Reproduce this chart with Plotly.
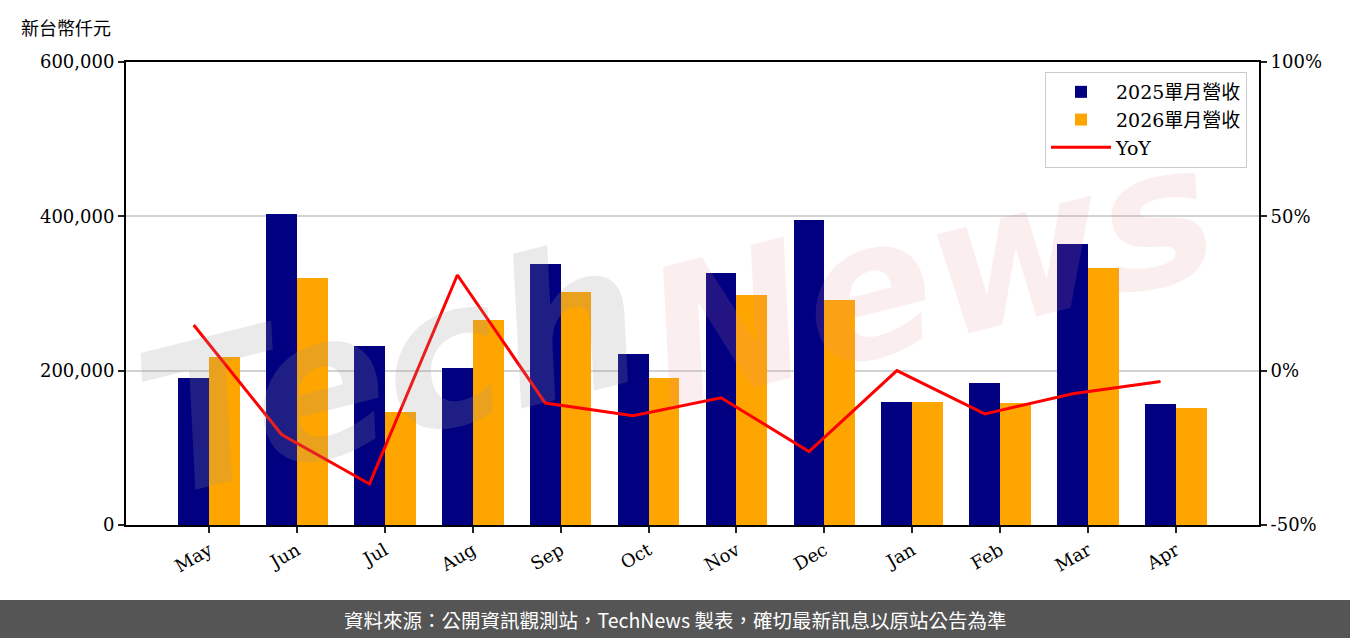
import plotly.graph_objects as go

months = ["May", "Jun", "Jul", "Aug", "Sep", "Oct", "Nov", "Dec", "Jan", "Feb", "Mar", "Apr"]
rev_2025 = [190000, 403000, 232000, 203000, 338000, 222000, 326000, 395000, 160000, 184000, 364000, 157000]
rev_2026 = [218000, 320000, 147000, 266000, 302000, 190000, 298000, 291000, 160000, 158000, 333000, 152000]
yoy = [14.8, -20.7, -36.7, 31.0, -10.5, -14.6, -8.8, -26.2, 0.0, -14.0, -7.5, -3.5]

name_2025 = "2025單月營收"
name_2026 = "2026單月營收"
name_yoy = "YoY"
y_title = "新台幣仟元"
footer = "資料來源：公開資訊觀測站，TechNews 製表，確切最新訊息以原站公告為準"

W = 0.35
idx = list(range(len(months)))
x_a = [i for i in idx]
x_b = [i + W for i in idx]
tickpos = [i + W / 2 for i in idx]

SERIF = "DejaVu Serif, Noto Sans CJK TC, serif"
CJK = "Noto Sans CJK TC, sans-serif"

fig = go.Figure()
fig.add_trace(go.Bar(x=x_a, y=rev_2025, width=W, name=name_2025,
                     marker=dict(color="#000080", line=dict(width=0))))
fig.add_trace(go.Bar(x=x_b, y=rev_2026, width=W, name=name_2026,
                     marker=dict(color="#FFA500", line=dict(width=0))))
fig.add_trace(go.Scatter(x=x_a, y=yoy, name=name_yoy, mode="lines",
                         line=dict(color="#FF0000", width=3), yaxis="y2"))

L, R, T, B = 126, 91, 62, 113
pw = 1350 - L - R
ph = 638 - T - B

def px_x(px):
    return (px - L) / pw

def px_y(py):
    return (638 - B - py) / ph

fig.update_layout(
    width=1350, height=638,
    margin=dict(l=L, r=R, t=T, b=B),
    paper_bgcolor="white", plot_bgcolor="white",
    barmode="overlay", bargap=0,
    font=dict(family=SERIF, size=18, color="#000"),
    showlegend=True,
    legend=dict(x=px_x(1247), y=px_y(72), xanchor="right", yanchor="top",
                bgcolor="rgba(255,255,255,0.8)", bordercolor="#cccccc", borderwidth=1,
                font=dict(family=SERIF, size=19), tracegroupgap=2, itemwidth=60),
    xaxis=dict(range=[-0.77, 12.12], tickmode="array", tickvals=tickpos, ticktext=months,
               tickangle=-30, ticks="outside", ticklen=6, tickwidth=2, tickcolor="#222",
               showline=True, linecolor="#000", linewidth=2, mirror=True,
               showgrid=False, zeroline=False, tickfont=dict(family=SERIF, size=18)),
    yaxis=dict(range=[0, 600000], tickmode="array",
               tickvals=[0, 200000, 400000, 600000],
               ticktext=["0", "200,000", "400,000", "600,000"],
               ticks="outside", ticklen=6, tickwidth=2, tickcolor="#222",
               showline=True, linecolor="#000", linewidth=2,
               showgrid=False, zeroline=False, tickfont=dict(family=SERIF, size=18)),
    yaxis2=dict(range=[-50, 100], overlaying="y", side="right", tickmode="array",
                tickvals=[-50, 0, 50, 100], ticktext=["-50%", "0%", "50%", "100%"],
                ticks="outside", ticklen=6, tickwidth=2, tickcolor="#222",
                showline=True, linecolor="#000", linewidth=2,
                showgrid=True, gridcolor="#d3d3d3", gridwidth=1.5, zeroline=False,
                tickfont=dict(family=SERIF, size=18)),
)

# footer band
fig.add_shape(type="rect", xref="paper", yref="paper",
              x0=px_x(0), x1=px_x(1350), y0=px_y(638), y1=px_y(600),
              fillcolor="#555555", line=dict(width=0), layer="above")
fig.add_annotation(xref="paper", yref="paper", x=px_x(675), y=px_y(619),
                   text=footer, showarrow=False, xanchor="center", yanchor="middle",
                   font=dict(family=CJK, size=19.5, color="white"))

# y axis unit
fig.add_annotation(xref="paper", yref="paper", x=px_x(19), y=px_y(27),
                   text=y_title, showarrow=False, xanchor="left", yanchor="middle",
                   font=dict(family=CJK, size=18, color="#000"))

# watermark
fig.add_annotation(xref="paper", yref="paper", x=px_x(390), y=px_y(370),
                   xanchor="center", yanchor="middle",
                   text="<i><b>Tech</b></i>", showarrow=False, textangle=-14,
                   font=dict(family="DejaVu Sans", size=200, color="rgba(150,150,150,0.2)"))
fig.add_annotation(xref="paper", yref="paper", x=px_x(930), y=px_y(275),
                   xanchor="center", yanchor="middle",
                   text="<i><b>News</b></i>", showarrow=False, textangle=-14,
                   font=dict(family="DejaVu Sans", size=190, color="rgba(225,140,150,0.15)"))

fig.write_html("out.html", config={"displayModeBar": False},
               post_script="document.body.style.margin='0';")
